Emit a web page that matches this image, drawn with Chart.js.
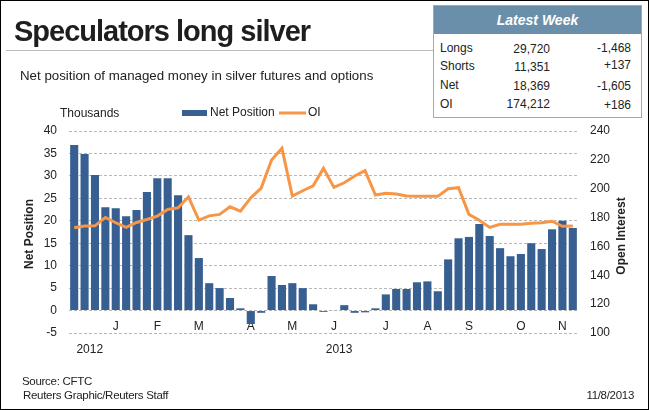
<!DOCTYPE html>
<html>
<head>
<meta charset="utf-8">
<script src="https://cdn.jsdelivr.net/npm/chart.js@4.4.0/dist/chart.umd.min.js"></script>
<style>
body{margin:0;background:#fff;font-family:"Liberation Sans",Arial,sans-serif;color:#222}
#c{position:absolute;left:0;top:0}
.t{position:absolute;white-space:nowrap;line-height:1}
.f{font-size:11.5px;letter-spacing:-0.3px}
#frame{position:absolute;left:0;top:0;width:649px;height:410px;box-sizing:border-box;border:1px solid #000;pointer-events:none}
#rule{position:absolute;left:6px;top:50px;width:428px;height:0;border-top:1px solid #bbb}
#box{position:absolute;left:433px;top:5px;width:207px;height:111px;border:1px solid #a8a8a8;background:#fff}
#boxhead{position:absolute;left:0;top:0;width:207px;height:28px;background:#6a8fab}
</style>
</head>
<body>
<canvas id="c" width="649" height="410"></canvas>
<div id="rule"></div>
<div class="t" style="left:14px;top:17px;font-size:29px;font-weight:bold;letter-spacing:-1px;color:#1e1e1e">Speculators long silver</div>
<div class="t" style="left:20px;top:69px;font-size:13.3px">Net position of managed money in silver futures and options</div>
<div class="t" style="left:60px;top:107px;font-size:12px">Thousands</div>
<div id="box">
  <div id="boxhead"></div>
  <div class="t" style="left:0;width:207px;text-align:center;top:7px;font-size:14px;font-weight:bold;font-style:italic;color:#fff">Latest Week</div>
  <div class="t" style="left:6px;top:36px;font-size:12px">Longs</div>
  <div class="t" style="left:6px;top:54px;font-size:12px">Shorts</div>
  <div class="t" style="left:6px;top:73px;font-size:12px">Net</div>
  <div class="t" style="left:6px;top:92px;font-size:12px">OI</div>
  <div class="t" style="right:91px;top:37px;font-size:12px">29,720</div>
  <div class="t" style="right:91px;top:55px;font-size:12px">11,351</div>
  <div class="t" style="right:91px;top:74px;font-size:12px">18,369</div>
  <div class="t" style="right:91px;top:92px;font-size:12px">174,212</div>
  <div class="t" style="right:10px;top:36px;font-size:12px">-1,468</div>
  <div class="t" style="right:10px;top:53px;font-size:12px">+137</div>
  <div class="t" style="right:10px;top:74px;font-size:12px">-1,605</div>
  <div class="t" style="right:10px;top:93px;font-size:12px">+186</div>
</div>
<div class="t f" style="left:22px;top:376px">Source: CFTC</div>
<div class="t f" style="left:23px;top:390px">Reuters Graphic/Reuters Staff</div>
<div class="t f" style="right:15px;top:390px">11/8/2013</div>
<div id="frame"></div>
<script>
// weekly CFTC data, thousands of contracts
const netPos = [36.9,34.9,30.2,23.0,22.8,21.0,22.4,26.4,29.5,29.5,
  25.7,16.8,11.7,6.1,5.0,2.8,0.5,-3.0,-0.5,7.7,
  5.7,6.1,5.0,1.4,-0.3,0.1,1.2,-0.5,-0.4,0.5,
  3.6,4.8,4.8,6.3,6.5,4.3,11.4,16.1,16.4,19.3,
  16.6,13.9,12.1,12.6,15.0,13.7,18.1,20.0,18.4]
const oi = [172.9,174.1,174.3,180.1,176.4,173.2,176.6,178.7,181.0,185.6,
  186.8,194.4,178.2,181.2,182.2,187.5,184.5,193.7,200.4,219.9,
  228.0,194.9,198.6,202.0,214.1,200.9,204.1,208.8,212.5,195.6,
  196.8,196.3,194.9,194.7,194.7,194.7,200.0,200.7,182.2,178.2,
  173.2,175.3,175.3,175.3,176.0,176.4,177.5,174.0,174.2]
const monthLbl = ['J','F','M','A','M','J','J','A','S','O','N']
const monthAt = [4,8,12,17,21,25,30,34,38,43,47]
const years = ['2012','2013']
const yearAt = [1.5,25.5]

let labels = netPos.map(() => '')
monthAt.forEach((k, i) => { labels[k] = monthLbl[i] })

const blue = '#375f92'
const orange = '#f79646'
const txt = '#222'
const fnt = '"Liberation Sans", Arial, sans-serif'

// legend, year row and axis titles
const extras = {
  id: 'extras',
  afterDraw(chart) {
    const ctx = chart.ctx
    const x = chart.scales.x
    ctx.save()
    ctx.fillStyle = txt
    ctx.font = '12px ' + fnt
    ctx.textBaseline = 'middle'
    ctx.textAlign = 'center'
    years.forEach((y, i) => ctx.fillText(y, x.getPixelForValue(yearAt[i]), 350))

    // legend: bars first, then line
    let bar = chart.data.datasets[0], line = chart.data.datasets[1]
    ctx.textAlign = 'left'
    ctx.fillStyle = bar.backgroundColor
    ctx.fillRect(182, 110, 25, 6)
    ctx.fillStyle = txt
    ctx.fillText(bar.label, 210, 113)
    ctx.strokeStyle = line.borderColor
    ctx.lineWidth = 3
    ctx.beginPath(); ctx.moveTo(279, 113); ctx.lineTo(306, 113); ctx.stroke()
    ctx.fillText(line.label, 308, 113)

    ctx.font = 'bold 12px ' + fnt
    ctx.textAlign = 'center'
    ctx.translate(30, 234); ctx.rotate(-Math.PI / 2)
    ctx.fillText('Net Position', 0, 0)
    ctx.restore()
    ctx.save()
    ctx.fillStyle = txt
    ctx.font = 'bold 12px ' + fnt
    ctx.textAlign = 'center'
    ctx.textBaseline = 'middle'
    ctx.translate(622, 236); ctx.rotate(-Math.PI / 2)
    ctx.fillText('Open Interest', 0, 0)
    ctx.restore()
  }
}

new Chart(document.getElementById('c'), {
  type: 'bar',
  data: {
    labels: labels,
    datasets: [
      { label: 'Net Position', data: netPos, yAxisID: 'y', backgroundColor: blue,
        barPercentage: 0.78, categoryPercentage: 1, order: 1 },
      { label: 'OI', type: 'line', data: oi, yAxisID: 'y1', borderColor: orange, backgroundColor: orange,
        borderWidth: 3, pointRadius: 0, tension: 0, order: 0 }
    ]
  },
  options: {
    responsive: false,
    animation: false,
    layout: { padding: { left: 0, right: 7, top: 131, bottom: 77 } },
    plugins: { legend: { display: false }, tooltip: { enabled: false } },
    scales: {
      x: {
        position: { y: 0 },
        grid: { display: false, drawTicks: false },
        border: { display: false },
        ticks: { autoSkip: false, maxRotation: 0, padding: 9, color: txt, font: { family: fnt, size: 12 } }
      },
      y: {
        position: 'left', min: -5, max: 40,
        afterFit(s) { s.width = 69 },
        grid: { color: '#b8b8b8', drawTicks: false },
        border: { display: false, dash: [3, 2] },
        ticks: { stepSize: 5, padding: 12, color: txt, font: { family: fnt, size: 12 } }
      },
      y1: {
        position: 'right', min: 100, max: 240,
        afterFit(s) { s.width = 64 },
        grid: { display: false, drawTicks: false },
        border: { display: false },
        ticks: { stepSize: 20, padding: 12, color: txt, font: { family: fnt, size: 12 } }
      }
    }
  },
  plugins: [extras]
})
</script>
</body>
</html>
